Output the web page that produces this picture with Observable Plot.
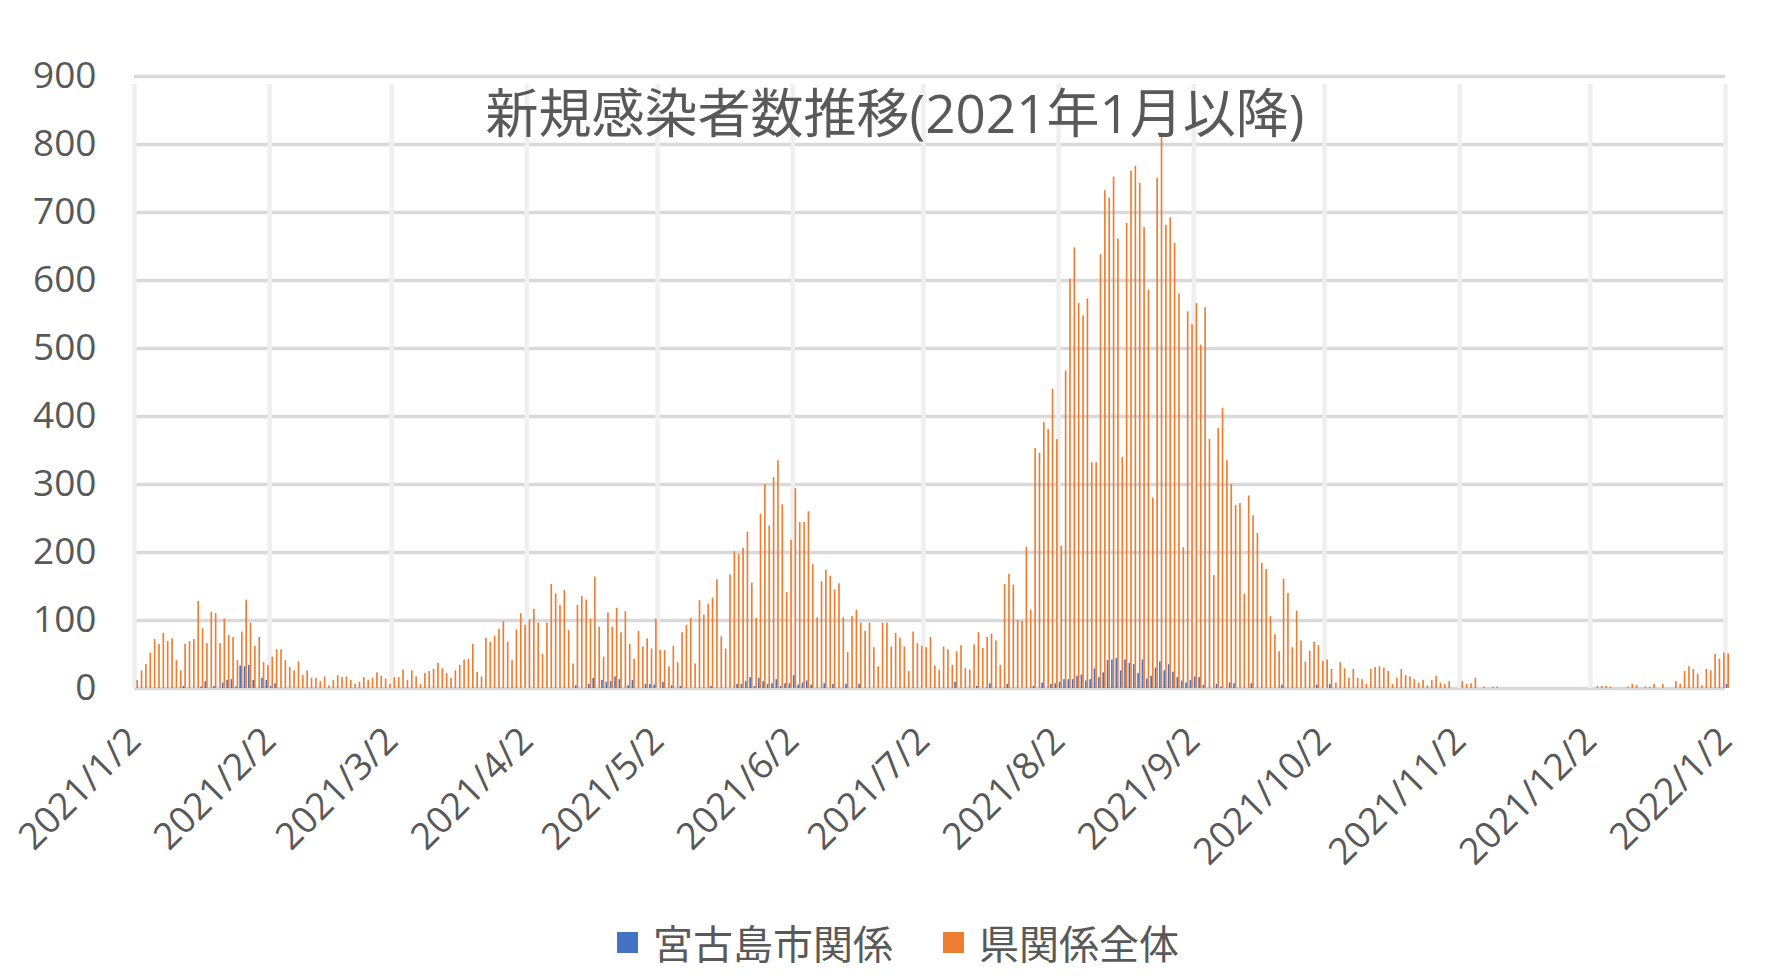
<!DOCTYPE html>
<html><head><meta charset="utf-8">
<script src="https://cdn.jsdelivr.net/npm/d3@7"></script>
<script src="https://cdn.jsdelivr.net/npm/@observablehq/plot@0.6"></script>
<style>
html,body{margin:0;padding:0;background:#fff;}
body{width:1780px;height:976px;overflow:hidden;font-family:"Open Sans","Noto Sans CJK JP",sans-serif;color:#595959;}
#wrap{position:relative;width:1780px;height:900px;}
#title{position:absolute;left:0;top:84px;width:1790px;text-align:center;font-size:53px;line-height:58px;color:#595959;font-weight:400;margin:0;font-family:"Open Sans","Noto Sans CJK JP",sans-serif;}
#legend{display:flex;justify-content:center;align-items:center;height:76px;font-size:40px;font-family:"Noto Sans CJK JP",sans-serif;color:#595959;padding-left:16px;margin-top:4px;}
.item{display:flex;align-items:center;margin:0 25px;}
.sw{width:21px;height:21px;margin-right:15px;}
</style></head>
<body>
<div id="wrap"><div id="chart"></div><h1 id="title">新規感染者数推移(2021年1月以降)</h1></div>
<div id="legend"></div>
<script>
// ---- data ----
const startDate = "2021-01-02";
const seriesNames = ["宮古島市関係", "県関係全体"];
const seriesColors = ["#4472C4", "#ED7D31"];
const xTickLabels = ["2021/1/2","2021/2/2","2021/3/2","2021/4/2","2021/5/2","2021/6/2","2021/7/2","2021/8/2","2021/9/2","2021/10/2","2021/11/2","2021/12/2","2022/1/2"];
const yTicks = [0,100,200,300,400,500,600,700,800,900];

// 県関係全体 daily counts, 2021/1/2 .. 2022/1/2
const prefTotal = [
  // Jan 2-31
  12,26,35,52,72,65,81,69,73,41,26,65,69,72,128,88,66,112,110,66,102,78,75,41,83,130,96,62,75,38,
  // Feb
  34,46,57,57,41,31,26,39,19,26,15,15,10,17,4,12,19,16,17,12,6,9,16,12,15,23,18,14,
  // Mar
  6,16,16,27,12,26,17,6,22,25,28,37,29,22,15,26,34,42,43,65,24,17,74,68,77,87,98,68,41,86,110,
  // Apr
  93,101,116,96,50,96,153,139,122,144,85,36,122,135,130,102,164,90,46,111,90,118,82,113,65,43,84,61,73,58,
  // May
  102,56,56,32,62,38,82,93,103,36,129,108,124,133,160,76,58,167,201,197,206,230,155,103,256,300,239,310,335,270,141,
  // Jun
  218,294,244,244,260,182,104,157,174,165,145,154,104,53,106,115,96,84,96,60,32,96,96,61,81,74,61,25,83,66,
  // Jul
  62,60,75,33,27,61,57,34,54,63,29,27,64,82,59,75,80,70,34,153,168,152,100,99,208,115,353,346,391,381,440,
  // Aug
  366,209,467,602,648,566,548,573,332,332,638,732,721,752,661,340,684,761,768,743,678,586,280,750,810,681,692,655,580,207,554,
  // Sep
  535,566,505,560,366,166,382,412,335,300,269,272,139,283,254,228,184,175,106,79,54,161,140,60,114,70,39,55,68,63,
  // Oct
  40,42,28,8,38,29,15,28,15,13,6,28,31,32,30,25,6,15,28,19,17,13,8,12,4,12,18,8,6,10,0,
  // Nov
  0,10,6,7,15,0,2,0,2,2,0,0,0,0,0,0,0,0,0,0,0,0,0,0,0,0,0,0,0,0,
  // Dec
  0,0,3,3,3,2,0,0,0,2,6,4,0,2,2,6,0,6,0,0,10,6,25,32,28,21,4,28,26,50,43,
  // Jan 2022 (1-2)
  52,51
];

// 宮古島市関係 daily counts, same dates
const miyako = [
  // Jan 2-31
  0,0,0,0,0,0,0,0,0,0,0,3,0,0,0,2,10,0,3,0,8,12,13,2,33,32,34,12,0,15,
  // Feb
  12,3,7,0,0,0,0,0,0,0,0,0,0,0,0,0,0,0,0,0,0,0,0,0,0,0,0,0,
  // Mar
  0,0,0,0,0,0,0,0,0,0,0,0,0,0,0,0,0,0,0,0,0,0,0,0,0,0,0,0,0,0,0,
  // Apr
  0,0,0,0,0,0,0,0,0,0,0,0,4,0,0,6,15,0,12,9,10,17,13,0,4,12,0,0,6,6,
  // May
  5,0,9,0,4,0,3,0,0,0,0,0,0,3,0,0,0,0,0,6,6,10,16,3,15,10,6,7,13,3,7,
  // Jun
  7,19,5,8,11,5,0,0,7,0,6,0,0,6,0,0,6,0,0,0,0,0,0,0,0,0,0,0,0,0,
  // Jul
  0,0,0,0,0,0,0,0,9,0,0,0,0,3,0,0,7,0,0,0,6,0,0,0,0,0,3,0,8,0,6,
  // Aug
  7,9,13,13,13,18,20,11,13,29,16,23,41,42,44,26,42,37,35,22,42,14,18,30,39,26,35,24,16,11,8,
  // Sep
  12,17,16,5,0,0,6,2,0,8,7,0,0,0,7,0,0,0,0,0,0,5,0,0,0,0,0,0,0,5,
  // Oct
  0,0,6,0,0,0,0,0,0,0,0,0,0,0,0,0,0,0,0,0,0,0,0,0,0,0,0,0,0,0,0,
  // Nov
  0,0,0,0,0,0,0,0,0,0,0,0,0,0,0,0,0,0,0,0,0,0,0,0,0,0,0,0,0,0,
  // Dec
  0,0,0,0,0,0,0,0,0,0,0,0,0,0,0,0,0,0,0,0,0,0,0,0,0,0,0,0,0,0,0,
  // Jan 2022
  0,6
];

// ---- build table ----
const parseISO = d3.utcParse("%Y-%m-%d");
const parseTick = d3.utcParse("%Y/%m/%d");
const start = parseISO(startDate);
const tickDates = xTickLabels.map(parseTick);
const rows = [];
prefTotal.forEach((v, i) => {
  const d = d3.utcDay.offset(start, i);
  rows.push({date: d, series: seriesNames[0], value: miyako[i], slot: 0});
  rows.push({date: d, series: seriesNames[1], value: v, slot: 1});
});
// cluster layout within each day (in hours)
const slotStart = [4, 13], slotEnd = [13, 22];

const chart = Plot.plot({
  width: 1780,
  height: 900,
  marginLeft: 134,
  marginRight: 55,
  marginTop: 76,
  marginBottom: 212,
  style: {fontFamily: "'Open Sans','Noto Sans CJK JP',sans-serif", fontSize: "37px", color: "#595959", background: "#fff", overflow: "visible"},
  x: {type: "utc", domain: [tickDates[0], tickDates[tickDates.length - 1]], ticks: tickDates,
      tickFormat: (d, i) => xTickLabels[i], tickRotate: -45, tickSize: 0, tickPadding: 46, label: null},
  y: {domain: [0, 900], ticks: yTicks, tickSize: 0, tickPadding: 38, label: null},
  color: {domain: seriesNames, range: seriesColors},
  marks: [
    Plot.ruleY(yTicks, {stroke: "#D9D9D9", strokeWidth: 3.5}),
    Plot.ruleX(tickDates, {y1: 0, y2: 900, stroke: "#EFEFEF", strokeWidth: 4.5, insetBottom: -8}),
    Plot.rectY(rows, {
      x1: d => d3.utcHour.offset(d.date, slotStart[d.slot]),
      x2: d => d3.utcHour.offset(d.date, slotEnd[d.slot]),
      y1: 0, y2: "value", fill: "series"
    })
  ]
});
document.getElementById("chart").appendChild(chart);

const legend = document.getElementById("legend");
seriesNames.forEach((name, i) => {
  const it = document.createElement("div");
  it.className = "item";
  const sw = document.createElement("span");
  sw.className = "sw";
  sw.style.background = seriesColors[i];
  const tx = document.createElement("span");
  tx.textContent = name;
  it.appendChild(sw); it.appendChild(tx);
  legend.appendChild(it);
});
</script>
</body></html>
